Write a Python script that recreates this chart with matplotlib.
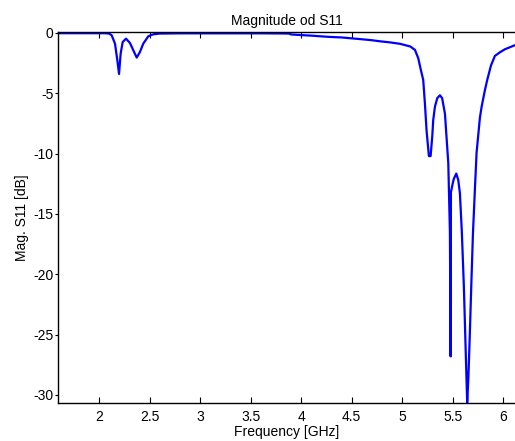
import matplotlib
matplotlib.use("Agg")
import matplotlib.pyplot as plt

plt.rcParams['font.family'] = ['Liberation Sans', 'DejaVu Sans']

freq_ghz = [1.6, 1.7, 1.8, 1.9, 2.0, 2.06, 2.1, 2.125, 2.158, 2.181, 2.198, 2.214,
            2.234, 2.267, 2.306, 2.339, 2.373, 2.405, 2.438, 2.488, 2.537, 2.6,
            2.8, 3.0, 3.2, 3.4, 3.6, 3.8, 3.88, 3.9, 3.99, 4.1, 4.2, 4.29, 4.4,
            4.48, 4.6, 4.7, 4.78, 4.88, 4.98, 5.08, 5.126, 5.159, 5.18, 5.208,
            5.225, 5.241, 5.264, 5.281, 5.297, 5.307, 5.324, 5.347, 5.373, 5.395,
            5.423, 5.456, 5.472, 5.479, 5.482, 5.499, 5.51, 5.535, 5.555, 5.571,
            5.59, 5.61, 5.628, 5.643, 5.655, 5.668, 5.685, 5.70, 5.72, 5.736,
            5.752, 5.769, 5.786, 5.818, 5.841, 5.878, 5.917, 5.967, 6.016, 6.06,
            6.12]

s11_db = [-0.02, -0.02, -0.02, -0.02, -0.02, -0.02, -0.05, -0.19, -0.88, -2.26,
          -3.4, -1.71, -0.75, -0.47, -0.83, -1.43, -2.04, -1.57, -0.88, -0.27,
          -0.11, -0.05, -0.03, -0.03, -0.03, -0.03, -0.03, -0.04, -0.05, -0.12,
          -0.17, -0.22, -0.28, -0.33, -0.37, -0.43, -0.52, -0.6, -0.69, -0.78,
          -0.9, -1.12, -1.4, -2.1, -2.9, -3.9, -5.9, -8.1, -10.2, -10.2, -8.6,
          -7.2, -6.1, -5.4, -5.16, -5.4, -6.7, -10.8, -16.5, -26.8, -13.2,
          -12.5, -12.1, -11.65, -12.2, -13.3, -16.5, -21.0, -26.3, -30.64,
          -28.5, -25.2, -20.5, -16.6, -12.8, -9.9, -8.5, -7.0, -6.1, -4.75,
          -3.9, -2.7, -1.9, -1.6, -1.35, -1.2, -1.0]

x_ticks = [2, 2.5, 3, 3.5, 4, 4.5, 5, 5.5, 6]
x_tick_labels = ['2', '2.5', '3', '3.5', '4', '4.5', '5', '5.5', '6']
y_ticks = [0, -5, -10, -15, -20, -25, -30]
y_tick_labels = ['0', '-5', '-10', '-15', '-20', '-25', '-30']

fig = plt.figure(figsize=(5.15, 4.41), dpi=100)
ax = fig.add_axes([0.1132, 0.0868, 0.8868, 0.8406])
ax.plot(freq_ghz, s11_db, color=(0, 0, 1), linewidth=1.6)
ax.set_xlim(1.597, 6.116)
ax.set_ylim(-30.64, 0.08)
ax.set_xticks(x_ticks)
ax.set_xticklabels(x_tick_labels)
ax.set_yticks(y_ticks)
ax.set_yticklabels(y_tick_labels)
ax.tick_params(axis='x', direction='in', length=4, width=0.8, top=True,
               labelsize=10, pad=5, colors='black')
ax.tick_params(axis='y', direction='out', length=2.5, width=0.8,
               labelsize=10, pad=1)
for s in ['left', 'bottom', 'top']:
    ax.spines[s].set_linewidth(1.0)
ax.spines['right'].set_visible(False)
ax.set_title('Magnitude od S11', fontsize=10, pad=5)
ax.set_xlabel('Frequency [GHz]', fontsize=10, labelpad=1)
ax.set_ylabel('Mag. S11 [dB]', fontsize=10, labelpad=3)
fig.savefig('out.png', dpi=100)
